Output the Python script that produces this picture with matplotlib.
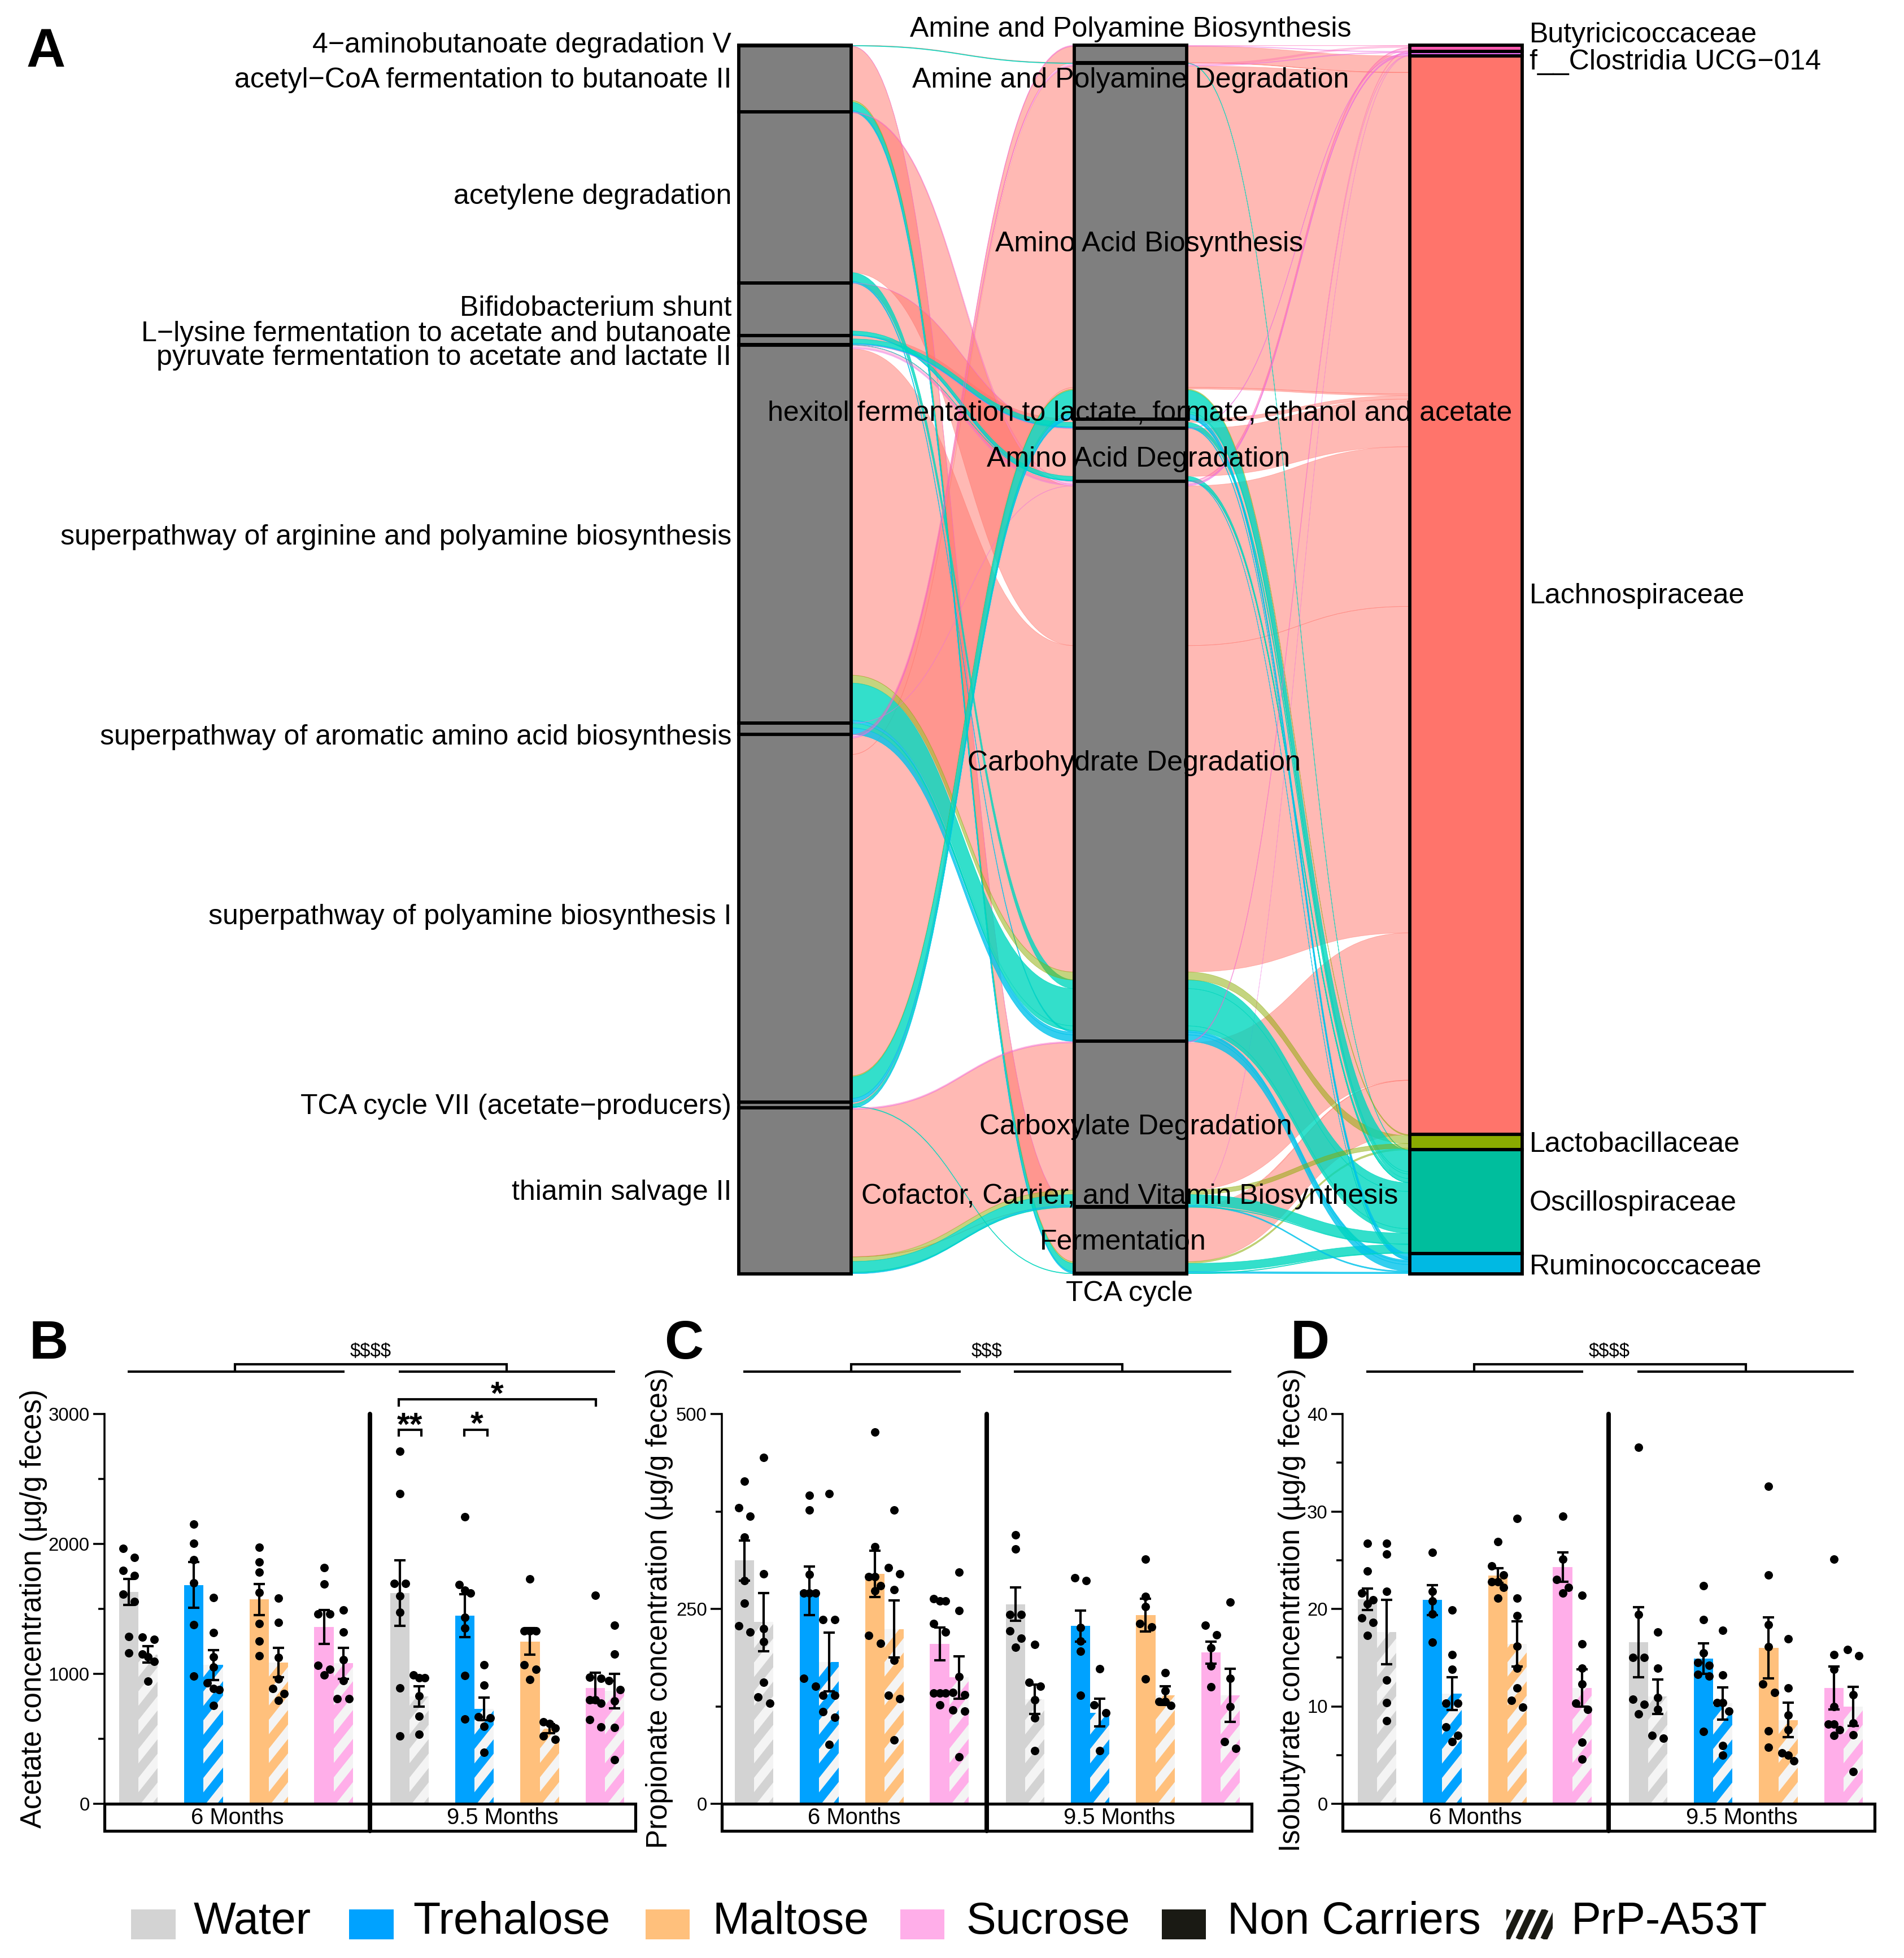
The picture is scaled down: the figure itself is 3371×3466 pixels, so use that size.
import matplotlib
matplotlib.use("Agg")
import numpy as np
import matplotlib.pyplot as plt
from matplotlib.patches import PathPatch, Rectangle
from matplotlib.path import Path

plt.rcParams['font.family'] = ['Liberation Sans', 'DejaVu Sans']

W, H = 3371, 3466

# panel A: strata
pathways = ["4\u2212aminobutanoate degradation V", "acetyl\u2212CoA fermentation to butanoate II",
            "acetylene degradation", "Bifidobacterium shunt",
            "L\u2212lysine fermentation to acetate and butanoate",
            "pyruvate fermentation to acetate and lactate II",
            "superpathway of arginine and polyamine biosynthesis",
            "superpathway of aromatic amino acid biosynthesis",
            "superpathway of polyamine biosynthesis I",
            "TCA cycle VII (acetate\u2212producers)", "thiamin salvage II"]
functions = ["Amine and Polyamine Biosynthesis", "Amine and Polyamine Degradation",
             "Amino Acid Biosynthesis", "hexitol fermentation to lactate, formate, ethanol and acetate",
             "Amino Acid Degradation", "Carbohydrate Degradation", "Carboxylate Degradation",
             "Cofactor, Carrier, and Vitamin Biosynthesis", "Fermentation", "TCA cycle"]
families = ["Butyricicoccaceae", "f__Clostridia UCG\u2212014", "Lachnospiraceae",
            "Lactobacillaceae", "Oscillospiraceae", "Ruminococcaceae"]

# panel A: one entry per flow (pathway index, function index, family index, size)
flow_path = [0, 0,
             1, 1, 1, 1, 1,
             2, 2, 2, 2, 2,
             3, 3, 3, 3,
             4, 4, 4,
             5, 5,
             6, 6, 6, 6, 6, 6,
             7, 7, 7,
             8, 8, 8,
             8, 8, 8, 8, 8, 8,
             9, 9, 9, 9,
             10, 10, 10, 10, 10, 10, 10, 10]
flow_func = [1, 1,
             8, 8, 8, 8, 8,
             5, 5, 5, 5, 5,
             4, 4, 4, 4,
             3, 3, 3,
             4, 4,
             5, 5, 5, 5, 5, 5,
             5, 5, 5,
             0, 0, 0,
             2, 2, 2, 2, 2, 2,
             2, 2, 2, 9,
             6, 6, 6, 6, 6, 6, 7, 7]
flow_fam = [2, 4,
            1, 2, 3, 4, 5,
            0, 1, 2, 4, 5,
            1, 2, 4, 5,
            2, 4, 5,
            1, 4,
            0, 1, 2, 3, 4, 5,
            1, 4, 5,
            0, 1, 2,
            0, 1, 2, 3, 4, 5,
            2, 4, 5, 4,
            0, 1, 2, 3, 4, 5, 2, 4]
flow_size = [0.5, 1.0,
             0.5, 96, 3, 14.5, 3,
             1, 0.5, 283, 15.5, 3,
             0.5, 84.5, 7, 1,
             6, 8, 2,
             0.6, 0.4,
             4.5, 2, 578.5, 14, 66, 5,
             0.5, 8, 11.5,
             1, 1, 29,
             3, 1.5, 569.5, 2, 38, 7,
             3, 4, 2, 1,
             1.5, 1, 261, 8, 19, 2, 0.5, 1]

family_colors = ['#FF5AB0', '#E76BF3', '#FF746B', '#8AAB00', '#00BE9D', '#00B9E3']
flow_colors = ['#FF5AB0', '#EE6CE0', '#FF746B', '#8AAB00', '#00D7BE', '#00C4EC']
flow_alpha = [0.3, 0.4, 0.5, 0.5, 0.8, 0.8]

# label nudges from the stratum centre (same units as the flow sizes)
path_dy = [-1, 2, -2, -1, -11, 23, 6, 15, -3, 3, 3]
func_dy = [-44, 30, 5, -18, 8, 3, 5, -18, 3, 36]
func_dx = [0, 0, 33, 17, 14, 6, 9, -1, -13, -2]
fam_dy = [-24, 15, 1, 4, 3, 6]

# panels B, C, D: order is Water, Trehalose, Maltose, Sucrose (NC, PrP) at 6 then 9.5 months
acetate_mean = [1630, 1150, 1683, 1068, 1572, 1087, 1361, 1081,
                1622, 826, 1447, 729, 1250, 577, 893, 868]
acetate_sem = [100, 65, 176, 114, 120, 112, 129, 118,
               254, 79, 166, 87, 103, 35, 116, 132]
acetate_points = [
    [1966, 1897, 1797, 1755, 1614, 1558, 1289, 1159],
    [1284, 1267, 1151, 1131, 1095, 943],
    [2152, 2005, 1880, 1700, 1378, 984],
    [1586, 1317, 1131, 1054, 929, 887, 879, 757],
    [1972, 1861, 1783, 1628, 1389, 1251, 1140],
    [1583, 1395, 1126, 962, 887, 849, 796],
    [1816, 1692, 1459, 1459, 1065, 1034, 990],
    [1492, 1323, 1109, 948, 810, 810],
    [2715, 2388, 1697, 1697, 1600, 1472, 890, 521],
    [993, 968, 968, 832, 674, 535],
    [2207, 1689, 1644, 1620, 1436, 1353, 987, 652],
    [1068, 912, 671, 660, 596, 394],
    [1730, 1331, 1331, 1331, 1068, 1034, 957],
    [632, 616, 582, 521, 494],
    [1606, 976, 965, 799, 799, 776, 646, 593],
    [1375, 1151, 948, 879, 790, 588, 338],
]

propionate_mean = [312, 233, 273, 182, 295, 224, 205, 162,
                   256, 134, 228, 117, 242, 139, 194, 139]
propionate_sem = [26, 37, 31, 37.5, 30, 36.6, 21, 27,
                  21.5, 19, 20, 18, 21, 12, 14, 34]
propionate_points = [
    [414, 380, 369, 342, 286, 257, 228, 220],
    [444, 295, 225, 208, 156, 137, 129],
    [396, 377, 294, 270, 270, 270, 161, 151],
    [398, 236, 236, 139, 139, 118, 111, 76],
    [477, 330, 291, 291, 280, 273, 216, 206],
    [377, 303, 295, 275, 184, 139, 135, 82],
    [263, 260, 260, 231, 220, 142, 142, 142, 127],
    [297, 248, 163, 143, 140, 120, 119, 60],
    [345, 327, 243, 243, 222, 212, 201],
    [204, 156, 151, 133, 110, 68],
    [290, 286, 226, 209, 196, 139],
    [173, 127, 117, 68],
    [314, 266, 253, 231, 227, 160],
    [168, 145, 131, 131, 126],
    [229, 217, 200, 177, 150],
    [259, 161, 125, 80, 71],
]

isobutyrate_mean = [21.0, 17.6, 20.9, 11.3, 23.4, 16.4, 24.3, 11.9,
                    16.6, 11.0, 14.9, 10.3, 16.0, 8.6, 11.9, 10.0]
isobutyrate_sem = [1.1, 3.3, 1.55, 1.7, 0.75, 2.3, 1.5, 1.9,
                   3.6, 1.76, 1.56, 1.65, 3.15, 1.75, 2.2, 2.0]
isobutyrate_points = [
    [26.7, 23.9, 21.6, 20.9, 20.5, 19.1, 18.6, 17.3],
    [26.7, 25.6, 21.8, 12.7, 10.4, 8.5],
    [25.8, 21.8, 20.8, 19.5, 16.6],
    [19.9, 15.3, 13.8, 10.3, 10.3, 7.9, 7.0, 6.4],
    [26.9, 24.4, 23.5, 22.8, 22.8, 22.2, 21.1],
    [29.3, 21.1, 19.3, 16.2, 13.9, 11.9, 10.6, 9.9],
    [29.5, 25.1, 23.0, 22.2, 21.6],
    [21.4, 16.4, 13.9, 12.3, 10.3, 9.7, 6.3, 4.6],
    [36.6, 19.4, 15.0, 15.0, 10.7, 10.2, 9.2],
    [17.6, 13.9, 10.9, 9.7, 7.0, 6.7],
    [22.4, 18.9, 15.5, 14.5, 14.2, 13.3, 13.1, 7.4],
    [17.8, 13.2, 10.4, 10.4, 9.5, 6.0, 5.0],
    [32.6, 23.5, 18.4, 16.1, 12.3, 11.4, 7.5, 5.8],
    [16.9, 11.9, 9.1, 7.6, 5.2, 5.0, 4.4],
    [25.1, 15.3, 13.8, 10.0, 8.2, 8.2, 7.6, 7.0],
    [15.8, 15.2, 11.2, 8.3, 7.1, 3.3],
]

group_names = ["Water", "Trehalose", "Maltose", "Sucrose"]
group_colors = ['#D3D3D3', '#00A2FF', '#FFC07C', '#FFAEE9']
age_labels = ["6 Months", "9.5 Months"]

group_x = [0, 3.37, 6.74, 10.1, 14.03, 17.4, 20.77, 24.15]
bar_px = 34.2


def px_axes(left, top, right, bottom):
    return fig.add_axes([left / W, 1 - bottom / H, (right - left) / W, (bottom - top) / H])


fig = plt.figure(figsize=(W / 300, H / 300), dpi=300, facecolor='white')

# overlay in pixel coordinates for letters, brackets and the legend
deco = fig.add_axes([0, 0, 1, 1], zorder=10)
deco.set_xlim(0, W)
deco.set_ylim(H, 0)
deco.axis('off')
deco.patch.set_alpha(0)


# ---- panel A
def stack(keys, groups, n_groups):
    """start of each flow and edges of each stratum, flows sorted by keys"""
    order = sorted(range(len(keys)), key=lambda k: (groups[k], keys[k]))
    starts = np.zeros(len(keys))
    edges = np.zeros(n_groups + 1)
    pos = 0
    current = 0
    for k in order:
        while current < groups[k]:
            current += 1
            edges[current] = pos
        starts[k] = pos
        pos += flow_size[k]
    while current < n_groups:
        current += 1
        edges[current] = pos
    return starts, edges


n = len(flow_size)
start_l, edges_l = stack([(flow_fam[i], flow_func[i]) for i in range(n)], flow_path, len(pathways))
start_m, edges_m = stack([(flow_fam[i], flow_path[i]) for i in range(n)], flow_func, len(functions))
start_r, edges_r = stack([(flow_func[i], flow_path[i]) for i in range(n)], flow_fam, len(families))
total = sum(flow_size)

sw = 199 / 594
axA = px_axes(1308, 80, 2695, 2255)
axA.set_xlim(1 - sw / 2, 3 + sw / 2)
axA.set_ylim(total, 0)
axA.axis('off')


def ribbon(x0, y0, x1, y1, h, color, alpha):
    xm = (x0 + x1) / 2
    verts = [(x0, y0), (xm, y0), (xm, y1), (x1, y1),
             (x1, y1 + h), (xm, y1 + h), (xm, y0 + h), (x0, y0 + h), (x0, y0)]
    codes = [Path.MOVETO, Path.CURVE4, Path.CURVE4, Path.CURVE4,
             Path.LINETO, Path.CURVE4, Path.CURVE4, Path.CURVE4, Path.CLOSEPOLY]
    axA.add_patch(PathPatch(Path(verts, codes), facecolor=color, edgecolor=color,
                            linewidth=0.2, alpha=alpha, zorder=2))


for i in sorted(range(n), key=lambda k: flow_fam[k] == 2, reverse=True):
    col = flow_colors[flow_fam[i]]
    al = flow_alpha[flow_fam[i]]
    ribbon(1 + sw / 2, start_l[i], 2 - sw / 2, start_m[i], flow_size[i], col, al)
    ribbon(2 + sw / 2, start_m[i], 3 - sw / 2, start_r[i], flow_size[i], col, al)


def strata(x, edges, colors):
    for k in range(len(edges) - 1):
        axA.add_patch(Rectangle((x - sw / 2, edges[k]), sw, edges[k + 1] - edges[k],
                                facecolor=colors[k], edgecolor='black', linewidth=1.4,
                                zorder=3, clip_on=False))


strata(1, edges_l, ['#7F7F7F'] * len(pathways))
strata(2, edges_m, ['#7F7F7F'] * len(functions))
strata(3, edges_r, family_colors)

label_size = 12.0
for k, name in enumerate(pathways):
    axA.text(1 - sw / 2 - 13 / 594, (edges_l[k] + edges_l[k + 1]) / 2 + path_dy[k], name,
             ha='right', va='center', fontsize=label_size, zorder=5, clip_on=False)
for k, name in enumerate(functions):
    axA.text(2 + func_dx[k] / 594, (edges_m[k] + edges_m[k + 1]) / 2 + func_dy[k], name,
             ha='center', va='center', fontsize=label_size, zorder=5, clip_on=False)
for k, name in enumerate(families):
    axA.text(3 + sw / 2 + 13 / 594, (edges_r[k] + edges_r[k + 1]) / 2 + fam_dy[k], name,
             ha='left', va='center', fontsize=label_size, zorder=5, clip_on=False)


# ---- panels B, C, D
def swarm_offsets(values, thr):
    values = sorted(values, reverse=True)
    xs, ys = [], []
    i = 0
    while i < len(values):
        j = i
        while j + 1 < len(values) and j - i < 2 and values[i] - values[j + 1] < thr:
            j += 1
        size = j - i + 1
        offs = {1: [0], 2: [-1, 1], 3: [-1, 0, 1]}[size]
        for o, v in zip(offs, values[i:j + 1]):
            xs.append(o * 0.3)
            ys.append(v)
        i = j + 1
    return xs, ys


def striped_bar(ax, x, height, col, ymax):
    # diagonal stripes clipped to the bar, 51 px apart going up
    bar = ax.bar(x, height, width=1, align='edge', facecolor='#F4F4F4', linewidth=0, zorder=1)[0]
    data_per_px = ymax / 690
    period = 51 * data_per_px
    rise = 43 * data_per_px
    y = -rise
    while y < height:
        stripe, = ax.plot([x - 0.2, x + 1.2], [y - 0.2 * rise, y + 1.2 * rise], color=col,
                          linewidth=3.8, solid_capstyle='butt', zorder=1.5)
        stripe.set_clip_path(bar)
        y += period


def bar_panel(left, right, first_bar, ymax, major, minor, means, sems, points):
    top, bottom = 2503, 3193
    ax = px_axes(left, top, right, bottom)
    ax.set_xlim(0, (right - left) / bar_px)
    ax.set_ylim(0, ymax)
    x0 = (first_bar - left) / bar_px
    for g in range(8):
        col = group_colors[g % 4]
        for s in range(2):
            idx = g * 2 + s
            x = x0 + group_x[g] + s
            if s == 0:
                ax.bar(x, means[idx], width=1, align='edge', color=col, linewidth=0, zorder=1)
            else:
                striped_bar(ax, x, means[idx], col, ymax)
            ax.errorbar(x + 0.5, means[idx], yerr=sems[idx], color='black', elinewidth=1.0,
                        capsize=2.4, capthick=1.0, zorder=3)
            dx, dy = swarm_offsets(points[idx], 0.025 * ymax)
            ax.scatter(x + 0.5 + np.array(dx), dy, s=13, color='black', linewidth=0,
                       zorder=4, clip_on=False)
    for side in ['top', 'right', 'bottom']:
        ax.spines[side].set_visible(False)
    ax.spines['left'].set_linewidth(0.85)
    ax.set_xticks([])
    ax.set_yticks(major)
    ax.set_yticks(minor, minor=True)
    ax.tick_params(axis='y', which='major', length=4.8, width=0.85, labelsize=7.9, pad=1.5)
    ax.tick_params(axis='y', which='minor', length=2.6, width=0.85)
    # age boxes under the axis
    box_h = 48 / (bottom - top)
    for k, label in enumerate(age_labels):
        ax.add_patch(Rectangle((k * 0.5, -box_h), 0.5, box_h, transform=ax.transAxes, fill=False,
                               edgecolor='black', linewidth=1.25, clip_on=False, zorder=5))
        ax.text(k * 0.5 + 0.25, -box_h / 2 - 0.002, label, transform=ax.transAxes,
                ha='center', va='center', fontsize=9.6)
    ax.plot([0.5, 0.5], [-box_h, 1], transform=ax.transAxes, color='black', linewidth=1.9,
            solid_capstyle='round', clip_on=False, zorder=5)
    return ax


bar_panel(185, 1125, 211, 3000, [0, 1000, 2000, 3000], [500, 1500, 2500],
          acetate_mean, acetate_sem, acetate_points)
bar_panel(1278, 2216, 1301, 500, [0, 250, 500], [125, 375],
          propionate_mean, propionate_sem, propionate_points)
bar_panel(2377, 3319, 2404, 40, [0, 10, 20, 30, 40], [5, 15, 25, 35],
          isobutyrate_mean, isobutyrate_sem, isobutyrate_points)


def line(xs, ys, lw=1.0):
    deco.plot(xs, ys, color='black', linewidth=lw, solid_capstyle='butt', solid_joinstyle='miter')


# comparison brackets over the panels
for l0, l1, l2, l3, b0, b1, tx, label in [(226, 610, 706, 1089, 416, 897, 656, "$$$$"),
                                          (1316, 1701, 1795, 2180, 1507, 1987, 1747, "$$$"),
                                          (2419, 2803, 2899, 3282, 2610, 3091, 2849, "$$$$")]:
    line([l0, l1], [2428, 2428])
    line([l2, l3], [2428, 2428])
    line([b0, b0, b1, b1], [2428, 2415, 2415, 2428])
    deco.text(tx, 2393, label, ha='center', va='center', fontsize=7.9, parse_math=False)

line([706, 706, 1055, 1055], [2490, 2477, 2477, 2490])
line([706, 706, 746, 746], [2543, 2531, 2531, 2543])
line([822, 822, 863, 863], [2543, 2531, 2531, 2543])
for sx, sy, stars in [(880, 2471, "*"), (726, 2526, "**"), (844, 2524, "*")]:
    deco.text(sx, sy, stars, ha='center', va='center', fontsize=14, fontweight='bold')

for lx, ly, label in [(60, 2848, "Acetate concentration (\u00b5g/g feces)"),
                      (1167, 2847, "Propionate concentration (\u00b5g/g feces)"),
                      (2288, 2850, "Isobutyrate concentration (\u00b5g/g feces)")]:
    deco.text(lx, ly, label, rotation=90, ha='center', va='center', fontsize=12.25)

for px, py, letter in [(47, 118, "A"), (52, 2405, "B"), (1176, 2405, "C"), (2285, 2405, "D")]:
    deco.text(px, py, letter, ha='left', va='baseline', fontsize=23, fontweight='bold')

# legend
legend_box = [(232, 311), (618, 697), (1143, 1221), (1594, 1672), (2057, 2135)]
legend_text = [343, 731, 1261, 1710, 2173]
legend_names = group_names + ["Non Carriers"]
legend_cols = group_colors + ['#1A1A14']
for (x0, x1), tx, name, col in zip(legend_box, legend_text, legend_names, legend_cols):
    deco.add_patch(Rectangle((x0, 3380), x1 - x0, 53, facecolor=col, edgecolor='none'))
    deco.text(tx, 3402, name, ha='left', va='center', fontsize=19.0)
clip = Rectangle((2667, 3380), 82, 53, facecolor='none', edgecolor='none')
deco.add_patch(clip)
for k in range(-1, 5):
    stripe, = deco.plot([2667 + k * 22, 2667 + k * 22 + 25], [3433, 3380], color='#1A1A14',
                        linewidth=2.9, solid_capstyle='butt')
    stripe.set_clip_path(clip)
deco.text(2781, 3402, "PrP-A53T", ha='left', va='center', fontsize=19.0)

fig.savefig("out.png", dpi=300)
